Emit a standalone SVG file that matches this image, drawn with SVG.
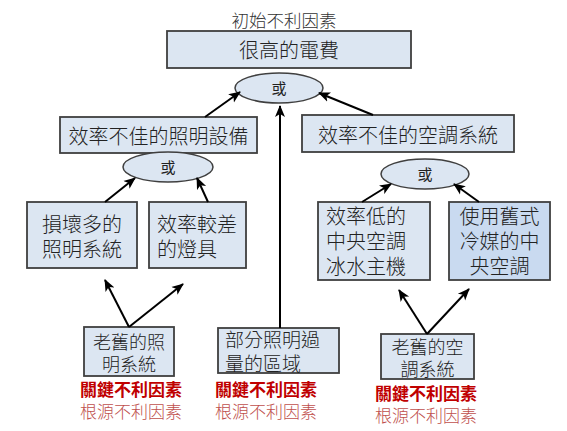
<svg xmlns="http://www.w3.org/2000/svg" width="567" height="431" viewBox="0 0 567 431">
<defs>
<style>
.box{fill:#dce6f2;stroke:#3f3f3f;stroke-width:1.8}
.box2{fill:#c9daf0;stroke:#3f3f3f;stroke-width:1.8}
.ell{fill:#dce6f2;stroke:#3f3f3f;stroke-width:1.5}
text{font-family:"Liberation Sans","Noto Sans CJK TC","Noto Sans CJK SC",sans-serif}
.t{font-size:20px;font-weight:300;fill:#222}
.s{font-size:18px}
.m{font-size:19px}
.c{text-anchor:middle}
.or{font-size:15px;fill:#222;text-anchor:middle}
.title{font-size:17.5px;font-weight:300;fill:#333;text-anchor:middle}
.key{font-size:17px;font-weight:bold;fill:#c00000}
.root{font-size:17px;font-weight:300;fill:#c0504d}
.conn line{stroke:#000;stroke-width:2;marker-end:url(#ah)}
</style>
<marker id="ah" markerUnits="userSpaceOnUse" markerWidth="12" markerHeight="12" viewBox="0 0 12 12" refX="11" refY="6" orient="auto">
<path d="M0,1 L12,6 L0,11 L3,6 z" fill="#000"/>
</marker>
</defs>
<rect width="567" height="431" fill="#fff"/>

<text class="title" x="284" y="27">初始不利因素</text>

<g id="top">
<rect class="box" x="167" y="31" width="244" height="37"/>
<text class="t c" x="289" y="58">很高的電費</text>
</g>
<g id="or-top">
<ellipse class="ell" cx="279" cy="88" rx="44" ry="15"/>
<text class="or" x="279" y="94">或</text>
</g>

<g id="lighting">
<rect class="box" x="60" y="117" width="197" height="36"/>
<text class="t c" x="158.5" y="144">效率不佳的照明設備</text>
</g>
<g id="hvac">
<rect class="box" x="302" y="115" width="212" height="37"/>
<text class="t c" x="408" y="143">效率不佳的空調系統</text>
</g>

<g id="or-left">
<ellipse class="ell" cx="168" cy="167" rx="45" ry="15"/>
<text class="or" x="168" y="173">或</text>
</g>
<g id="or-right">
<ellipse class="ell" cx="425" cy="174" rx="44" ry="15"/>
<text class="or" x="425" y="180">或</text>
</g>

<g id="damaged">
<rect class="box" x="27" y="202" width="110" height="66"/>
<text class="t c" x="82" y="232">損壞多的</text>
<text class="t c" x="82" y="257">照明系統</text>
</g>
<g id="fixtures">
<rect class="box" x="149" y="202" width="97" height="66"/>
<text class="t" x="157" y="232">效率較差</text>
<text class="t" x="157" y="257">的燈具</text>
</g>
<g id="chiller">
<rect class="box" x="318" y="202" width="112" height="78"/>
<text class="t" x="326" y="224">效率低的</text>
<text class="t" x="326" y="249">中央空調</text>
<text class="t" x="326" y="274">冰水主機</text>
</g>
<g id="refrigerant">
<rect class="box2" x="449" y="202" width="101" height="78"/>
<text class="t c" x="499.5" y="224">使用舊式</text>
<text class="t c" x="499.5" y="249">冷媒的中</text>
<text class="t c" x="499.5" y="274">央空調</text>
</g>

<g id="old-lighting">
<rect class="box" x="84" y="327" width="90" height="49"/>
<text class="t s c" x="129" y="349">老舊的照</text>
<text class="t s c" x="129" y="371">明系統</text>
<text class="key c" x="131" y="396">關鍵不利因素</text>
<text class="root c" x="131" y="418">根源不利因素</text>
</g>
<g id="over-lit">
<rect class="box" x="218" y="328" width="121" height="45"/>
<text class="t m" x="225" y="347">部分照明過</text>
<text class="t m" x="225" y="371">量的區域</text>
<text class="key" x="215" y="396">關鍵不利因素</text>
<text class="root" x="215" y="418">根源不利因素</text>
</g>
<g id="old-hvac">
<rect class="box" x="381" y="334" width="93" height="45"/>
<text class="t s c" x="427.5" y="354">老舊的空</text>
<text class="t s c" x="427.5" y="376">調系統</text>
<text class="key c" x="426" y="400">關鍵不利因素</text>
<text class="root c" x="426" y="422">根源不利因素</text>
</g>

<g id="connectors" class="conn">
<line x1="205" y1="117" x2="240" y2="92"/>
<line x1="373" y1="115" x2="319" y2="93"/>
<line x1="280" y1="328" x2="280" y2="106"/>
<line x1="105" y1="202" x2="135" y2="178"/>
<line x1="208" y1="202" x2="197" y2="178"/>
<line x1="362" y1="202" x2="391" y2="184"/>
<line x1="479" y1="202" x2="454" y2="184"/>
<line x1="129" y1="327" x2="105" y2="280"/>
<line x1="129" y1="327" x2="183" y2="284"/>
<line x1="427" y1="334" x2="399" y2="290"/>
<line x1="427" y1="334" x2="469" y2="289"/>
</g>
</svg>
